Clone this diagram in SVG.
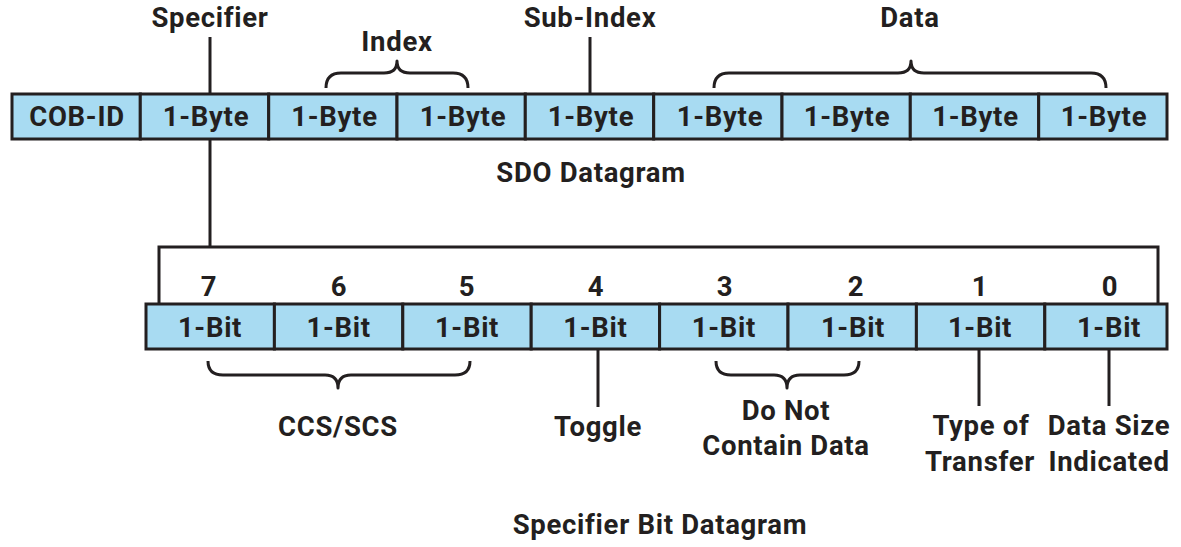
<svg xmlns="http://www.w3.org/2000/svg" width="1181" height="547" viewBox="0 0 1181 547">
<style>
.bg{fill:#ffffff}
.cell{fill:#a8dbf2;stroke:#231f20;stroke-width:3}
.t{font-family:Roboto,"Liberation Sans",Arial,sans-serif;font-weight:700;font-size:27.5px;letter-spacing:0.7px;fill:#231f20;text-anchor:middle}
.ln{fill:none;stroke:#231f20;stroke-width:3;stroke-linejoin:miter}
.br{fill:none;stroke:#231f20;stroke-width:3;stroke-linejoin:round;stroke-linecap:butt}
</style>
<rect class="bg" x="0" y="0" width="1181" height="547"/>

<g id="connectors">
  <line class="ln" x1="210" y1="37" x2="210" y2="94"/>
  <line class="ln" x1="590" y1="37" x2="590" y2="94"/>
  <line class="ln" x1="210" y1="139" x2="210" y2="248"/>
  <polyline class="ln" points="159,304 159,247 1158,247 1158,304"/>
  <path class="br" d="M326,88 Q326,73 341,73 L384,73 Q397,73 397,61 Q397,73 410,73 L453,73 Q468,73 468,88"/>
  <path class="br" d="M714,88 Q714,73 729,73 L898,73 Q911,73 911,61 Q911,73 924,73 L1091,73 Q1106,73 1106,88"/>
  <path class="br" d="M208,361 Q208,375 223,375 L325,375 Q338,375 338,388 Q338,375 351,375 L455,375 Q470,375 470,361"/>
  <path class="br" d="M716,361 Q716,375 731,375 L774,375 Q787,375 787,388 Q787,375 800,375 L844,375 Q859,375 859,361"/>
  <line class="ln" x1="598" y1="349" x2="598" y2="407"/>
  <line class="ln" x1="979" y1="349" x2="979" y2="406"/>
  <line class="ln" x1="1109" y1="349" x2="1109" y2="406"/>
</g>

<g id="sdo-datagram">
  <g id="cob-id"><rect class="cell" x="12" y="94" width="128.3" height="45"/><text class="t" x="77" y="126">COB-ID</text></g>
  <g id="byte-specifier"><rect class="cell" x="140.3" y="94" width="128.4" height="45"/><text class="t" x="206" y="126">1-Byte</text></g>
  <g id="byte-index-1"><rect class="cell" x="268.7" y="94" width="128.3" height="45"/><text class="t" x="334.5" y="126">1-Byte</text></g>
  <g id="byte-index-2"><rect class="cell" x="397" y="94" width="128.3" height="45"/><text class="t" x="463" y="126">1-Byte</text></g>
  <g id="byte-subindex"><rect class="cell" x="525.3" y="94" width="128.4" height="45"/><text class="t" x="591" y="126">1-Byte</text></g>
  <g id="byte-data-1"><rect class="cell" x="653.7" y="94" width="128.3" height="45"/><text class="t" x="720" y="126">1-Byte</text></g>
  <g id="byte-data-2"><rect class="cell" x="782" y="94" width="128.3" height="45"/><text class="t" x="847" y="126">1-Byte</text></g>
  <g id="byte-data-3"><rect class="cell" x="910.3" y="94" width="128.4" height="45"/><text class="t" x="975.5" y="126">1-Byte</text></g>
  <g id="byte-data-4"><rect class="cell" x="1038.7" y="94" width="128.3" height="45"/><text class="t" x="1104" y="126">1-Byte</text></g>
</g>

<g id="top-labels">
  <text class="t" x="210" y="27">Specifier</text>
  <text class="t" x="397" y="51">Index</text>
  <text class="t" x="590" y="27">Sub-Index</text>
  <text class="t" x="910" y="27">Data</text>
  <text class="t" x="591" y="182">SDO Datagram</text>
</g>

<g id="bit-datagram">
  <g id="bit-7"><rect class="cell" x="146" y="304" width="128.4" height="45"/><text class="t" x="210" y="337">1-Bit</text><text class="t" x="209" y="296">7</text></g>
  <g id="bit-6"><rect class="cell" x="274.4" y="304" width="128.4" height="45"/><text class="t" x="338.6" y="337">1-Bit</text><text class="t" x="339" y="296">6</text></g>
  <g id="bit-5"><rect class="cell" x="402.8" y="304" width="128.4" height="45"/><text class="t" x="467" y="337">1-Bit</text><text class="t" x="467" y="296">5</text></g>
  <g id="bit-4"><rect class="cell" x="531.2" y="304" width="128.4" height="45"/><text class="t" x="595.4" y="337">1-Bit</text><text class="t" x="596" y="296">4</text></g>
  <g id="bit-3"><rect class="cell" x="659.6" y="304" width="128.4" height="45"/><text class="t" x="723.8" y="337">1-Bit</text><text class="t" x="725" y="296">3</text></g>
  <g id="bit-2"><rect class="cell" x="788" y="304" width="128.4" height="45"/><text class="t" x="853" y="337">1-Bit</text><text class="t" x="856" y="296">2</text></g>
  <g id="bit-1"><rect class="cell" x="916.4" y="304" width="128.4" height="45"/><text class="t" x="980" y="337">1-Bit</text><text class="t" x="980" y="296">1</text></g>
  <g id="bit-0"><rect class="cell" x="1044.8" y="304" width="122.2" height="45"/><text class="t" x="1109" y="337">1-Bit</text><text class="t" x="1110" y="296">0</text></g>
</g>

<g id="bottom-labels">
  <text class="t" x="338" y="436">CCS/SCS</text>
  <text class="t" x="598" y="436">Toggle</text>
  <text class="t" x="786" y="420">Do Not</text>
  <text class="t" x="786" y="455">Contain Data</text>
  <text class="t" x="981" y="435">Type of</text>
  <text class="t" x="980" y="471">Transfer</text>
  <text class="t" x="1109" y="435">Data Size</text>
  <text class="t" x="1109" y="471">Indicated</text>
  <text class="t" x="660" y="534">Specifier Bit Datagram</text>
</g>
</svg>
